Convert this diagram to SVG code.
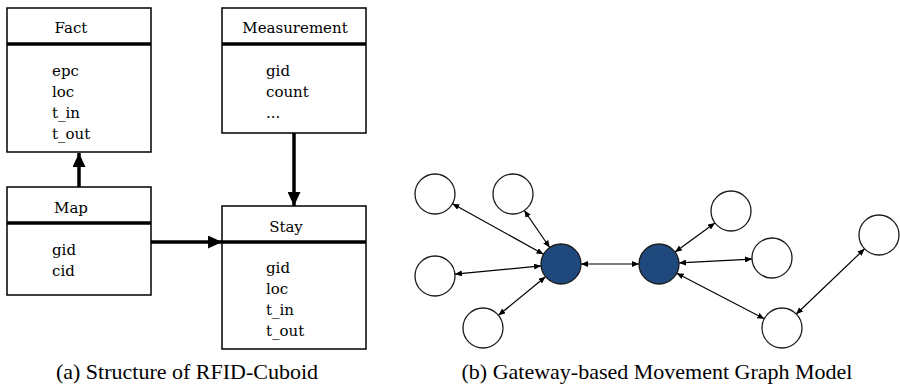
<svg xmlns="http://www.w3.org/2000/svg" width="900" height="385" viewBox="0 0 900 385">
  <style>
    .box { fill: #ffffff; stroke: #000000; stroke-width: 1.5; }
    .div { stroke: #000000; stroke-width: 3.5; }
    .t { font-family: "DejaVu Serif", "Liberation Serif", serif; font-size: 15px; fill: #000000; }
    .title { text-anchor: middle; }
    .flow { stroke: #000000; stroke-width: 3.5; fill: none; }
    .node { fill: #ffffff; stroke: #1a1a1a; stroke-width: 1.3; }
    .gw { fill: #1f497d; stroke: #1a1a1a; stroke-width: 1.3; }
    .edge { stroke: #000000; stroke-width: 1.2; fill: none; marker-start: url(#tip); marker-end: url(#tip); }
    .cap { font-family: 'Liberation Serif', Tinos, 'Times New Roman', serif; font-size: 22px; fill: #000000; text-anchor: middle; }
  </style>
  <defs>
    <marker id="bigHead" viewBox="0 0 14 13" refX="14" refY="6.5" markerWidth="14" markerHeight="13" markerUnits="userSpaceOnUse" orient="auto">
      <path d="M0,0 L14,6.5 L0,13 Z" fill="#000000"/>
    </marker>
    <marker id="tip" viewBox="0 0 7 6" refX="7" refY="3" markerWidth="7" markerHeight="6" markerUnits="userSpaceOnUse" orient="auto-start-reverse">
      <path d="M0,0 L7,3 L0,6 Z" fill="#000000"/>
    </marker>
  </defs>

  <rect width="900" height="385" fill="#ffffff"/>

  <!-- (a) RFID-Cuboid tables -->
  <g id="fact">
    <rect class="box" x="7" y="8" width="144" height="144"/>
    <line class="div" x1="7" y1="44" x2="151" y2="44"/>
    <text class="t title" x="71" y="33">Fact</text>
    <text class="t" x="52" y="75.5">epc</text>
    <text class="t" x="52" y="96.5">loc</text>
    <text class="t" x="52" y="117.5">t_in</text>
    <text class="t" x="52" y="138.5">t_out</text>
  </g>

  <g id="measurement">
    <rect class="box" x="222" y="8" width="144" height="125"/>
    <line class="div" x1="222" y1="44" x2="366" y2="44"/>
    <text class="t title" x="295" y="33">Measurement</text>
    <text class="t" x="266" y="75.5">gid</text>
    <text class="t" x="266" y="96.5">count</text>
    <text class="t" x="266" y="117.5">...</text>
  </g>

  <g id="map">
    <rect class="box" x="7" y="187" width="144" height="108"/>
    <line class="div" x1="7" y1="223" x2="151" y2="223"/>
    <text class="t title" x="71" y="212.5">Map</text>
    <text class="t" x="52" y="255">gid</text>
    <text class="t" x="52" y="276">cid</text>
  </g>

  <g id="stay">
    <rect class="box" x="222" y="206" width="144" height="143"/>
    <line class="div" x1="222" y1="242" x2="366" y2="242"/>
    <text class="t title" x="286" y="232">Stay</text>
    <text class="t" x="266" y="273">gid</text>
    <text class="t" x="266" y="294">loc</text>
    <text class="t" x="266" y="315">t_in</text>
    <text class="t" x="266" y="336">t_out</text>
  </g>

  <g id="table-links">
    <line class="flow" x1="79" y1="187" x2="79" y2="153" marker-end="url(#bigHead)"/>
    <line class="flow" x1="294" y1="133" x2="294" y2="206" marker-end="url(#bigHead)"/>
    <line class="flow" x1="151" y1="242" x2="222" y2="242" marker-end="url(#bigHead)"/>
  </g>

  <!-- (b) gateway-based movement graph -->
  <g id="graph-edges">
    <line class="edge" x1="452.5" y1="203.7" x2="543.5" y2="254.3"/>
    <line class="edge" x1="524.3" y1="210.5" x2="549.7" y2="247.5"/>
    <line class="edge" x1="454.9" y1="274.1" x2="541.1" y2="265.9"/>
    <line class="edge" x1="498.5" y1="315.3" x2="545.5" y2="276.7"/>
    <line class="edge" x1="581" y1="264" x2="639" y2="264"/>
    <line class="edge" x1="675.1" y1="252.1" x2="714.9" y2="222.9"/>
    <line class="edge" x1="679" y1="262.9" x2="752" y2="259.1"/>
    <line class="edge" x1="676.7" y1="273.2" x2="764.3" y2="318.8"/>
    <line class="edge" x1="796.1" y1="314.2" x2="864.6" y2="248.8"/>
  </g>

  <g id="n1"><circle class="node" cx="435" cy="194" r="20"/></g>
  <g id="n2"><circle class="node" cx="513" cy="194" r="20"/></g>
  <g id="n3"><circle class="node" cx="435" cy="276" r="20"/></g>
  <g id="n4"><circle class="node" cx="483" cy="328" r="20"/></g>
  <g id="gateway1"><circle class="gw" cx="561" cy="264" r="20"/></g>
  <g id="gateway2"><circle class="gw" cx="659" cy="264" r="20"/></g>
  <g id="n5"><circle class="node" cx="731" cy="211" r="20"/></g>
  <g id="n6"><circle class="node" cx="772" cy="258" r="20"/></g>
  <g id="n7"><circle class="node" cx="879" cy="235" r="20"/></g>
  <g id="n8"><circle class="node" cx="782" cy="328" r="20"/></g>

  <g id="captions">
    <text class="cap" x="187" y="379">(a) Structure of RFID-Cuboid</text>
    <text class="cap" x="657" y="379">(b) Gateway-based Movement Graph Model</text>
  </g>
</svg>
